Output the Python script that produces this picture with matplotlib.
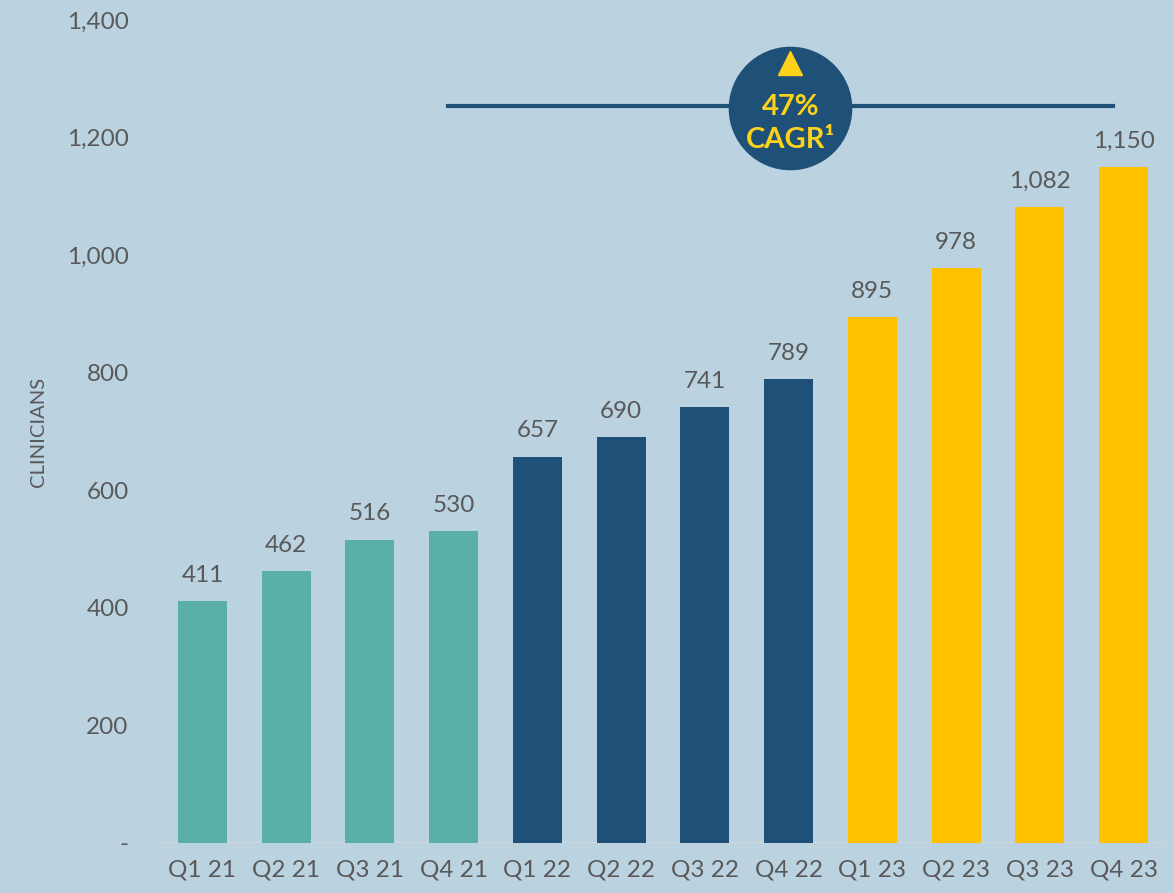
import matplotlib
matplotlib.use("Agg")
import matplotlib.pyplot as plt
import numpy as np

# datos del grafico
trimestres = ["Q1 21", "Q2 21", "Q3 21", "Q4 21",
              "Q1 22", "Q2 22", "Q3 22", "Q4 22",
              "Q1 23", "Q2 23", "Q3 23", "Q4 23"]
clinicos = [411, 462, 516, 530, 657, 690, 741, 789, 895, 978, 1082, 1150]
anio = ["21", "21", "21", "21", "22", "22", "22", "22", "23", "23", "23", "23"]
colores_anio = {"21": "#5AAFA8", "22": "#1F5078", "23": "#FFC000"}
cagr_texto = "47%"
yticks = [0, 200, 400, 600, 800, 1000, 1200, 1400]

fondo = "#BBD2E0"
gris = "#595959"
azul = "#1F5078"
amarillo = "#FFD21A"
fuente = ["Lato", "DejaVu Sans"]

plt.rcParams['font.family'] = fuente

fig = plt.figure(figsize=(11.73, 8.93), dpi=100, facecolor=fondo)
ax = fig.add_axes([0.1369, 0.056, 0.8566, 0.9216])
ax.set_facecolor(fondo)

x = np.arange(len(trimestres))
colores = [colores_anio[a] for a in anio]
ax.bar(x, clinicos, width=0.585, color=colores, zorder=3)
ax.axhline(0, color="#D6D6D6", lw=2, zorder=2)

for xi, v in zip(x, clinicos):
	ax.annotate(f"{v:,}", (xi, v), xytext=(0, 11), textcoords="offset points",
				ha="center", va="bottom", fontsize=17.5, color=gris)

ax.set_xlim(-0.5, 11.5)
ax.set_ylim(0, 1400)
ax.set_xticks(x)
ax.set_xticklabels(trimestres, fontsize=17.5, color=gris)
ax.set_yticks(yticks)
ax.set_yticklabels([f"{t:,}" if t else "-" for t in yticks], fontsize=17.5, color=gris)
ax.tick_params(axis="both", length=0)
ax.tick_params(axis="y", pad=23)
ax.tick_params(axis="x", pad=12)
for s in ax.spines.values():
	s.set_visible(False)
ax.set_ylabel("CLINICIANS", fontsize=14.5, color=gris)
ax.yaxis.set_label_coords(-0.113, 0.5)

# linea y circulo de CAGR
ax.plot([2.93, 10.88], [1254, 1254], color=azul, lw=3, zorder=4, clip_on=False)
ax.plot([7.02], [1251], marker="o", ms=88, color=azul, mec=azul, zorder=5, clip_on=False)
ax.plot([7.02], [1327], marker="^", ms=17, color=amarillo, mec=amarillo, zorder=6, clip_on=False)
ax.text(7.02, 1252, cagr_texto, ha="center", va="center", fontsize=21,
		fontweight="bold", color=amarillo, zorder=6)
ax.text(7.02, 1196, "CAGR¹", ha="center", va="center", fontsize=21,
		fontweight="bold", color=amarillo, zorder=6)

fig.savefig("out.png", dpi=100, facecolor=fondo)
